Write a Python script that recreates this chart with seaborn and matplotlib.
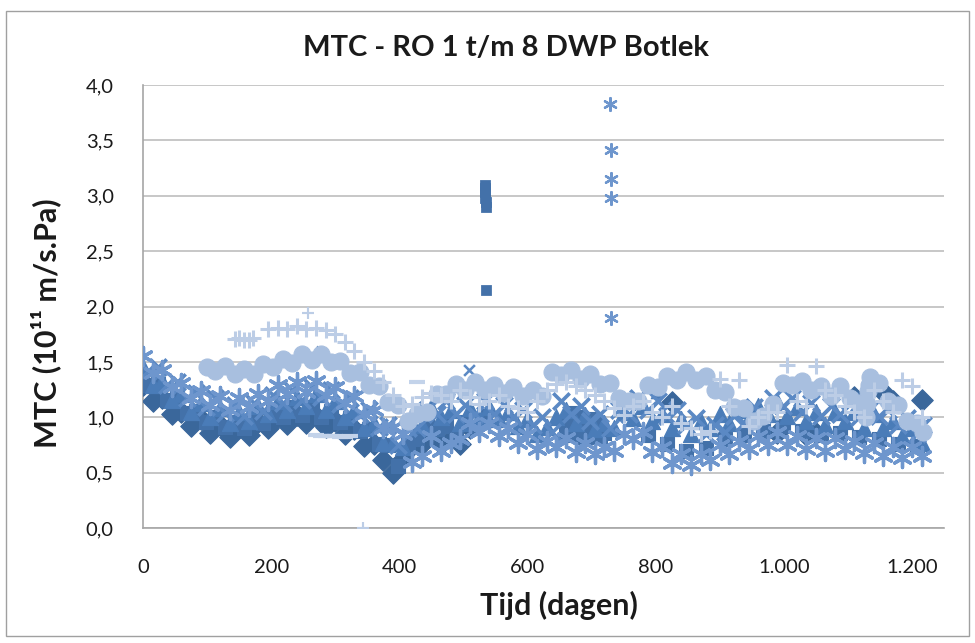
import numpy as np
import pandas as pd
import matplotlib
matplotlib.use("Agg")
import matplotlib.pyplot as plt
import seaborn as sns
from matplotlib.patches import Rectangle
from matplotlib.ticker import FixedLocator

sns.set_theme(style="white")
plt.rcParams['font.family'] = ['Lato', 'DejaVu Sans']

# ---------------- data (days, MTC in 1e-11 m/s.Pa) ----------------
DAYS_A = [0, 15, 30, 45, 60, 75, 90, 105, 120, 135,
          150, 165, 180, 195, 210, 225, 240, 255, 270, 285,
          300, 315, 330, 345, 360, 375, 390, 405, 420, 435,
          450, 465, 480, 495, 510, 525, 540, 555, 570, 585,
          600, 615, 630, 645, 660, 675, 690, 705, 720, 735,
          750, 765, 780, 795, 810, 825, 840, 855, 870, 885,
          900, 915, 930, 945, 960, 975, 990, 1005, 1020, 1035,
          1050, 1065, 1080, 1095, 1110, 1125, 1140, 1155, 1170, 1185,
          1200, 1215]
DAYS_B = [8, 23, 38, 53, 68, 83, 98, 113, 128, 143,
          158, 173, 188, 203, 218, 233, 248, 263, 278, 293,
          308, 323, 338, 353, 368, 383, 398, 413, 428, 443,
          458, 473, 488, 503, 518, 533, 548, 563, 578, 593,
          608, 623, 638, 653, 668, 683, 698, 713, 728, 743,
          758, 773, 788, 803, 818, 833, 848, 863, 878, 893,
          908, 923, 938, 953, 968, 983, 998, 1013, 1028, 1043,
          1058, 1073, 1088, 1103, 1118, 1133, 1148, 1163, 1178, 1193,
          1208, 1218]

N = None
RO1 = [1.29, 1.15, 1.17, 1.03, 1.05, 0.92, 0.98, 0.86, 0.93, 0.82,
       0.91, 0.84, 0.96, 0.90, 1.01, 0.94, 1.02, 0.95, 1.01, 0.91,
       0.97, 0.85, 0.89, 0.74, 0.76, 0.61, 0.50, 0.62,
       0.74, 0.76, 0.88, 0.76, 0.80, 0.76, 0.90, N, N, N, N, N, N, N, N,
       N, N, N, N, N, N, N, N, N,
       N, N, N, 1.14, N, N, N, N, N, N,
       N, N, N, N, 0.86, N, N, 0.84, 0.86, N,
       N, N, 1.18, N, N, 1.23, 1.15, N, N, 1.16]
RO1_EXTRA_DAYS = []
RO1_EXTRA_MTC = []
RO1_OUT_DAYS = []
RO1_OUT_MTC = []

RO2 = [1.29, 1.30, 1.16, 1.17, 1.04, 1.06, 0.96, 1.00, 0.91, 0.96,
       0.90, 0.99, 0.95, 1.05, 1.00, 1.09, 1.02, 1.09, 1.00, 1.06,
       0.96, 0.99, 0.88, 0.89, 0.76, 0.75, 0.56, 0.76,
       0.80, 0.94, 0.89, 0.92, 0.82, 0.96, 0.91, 1.01, N, N, N, N, N, N, N,
       N, 1.04, 0.96, 0.98, 0.90, N, N, N, N,
       0.84, N, 0.76, N, 0.70, N, 0.72, N, 0.80, N,
       0.84, N, 0.88, N, 0.92, N, 0.88, N, 0.84, N,
       0.86, N, 0.82, N, 0.80, N, 0.76, N, 0.74, N]
RO2_EXTRA_DAYS = [660, 668, 675, 683, 690, 698, 705, 713, 720, 663, 678, 693, 708]
RO2_EXTRA_MTC = [0.86, 0.84, 0.85, 0.83, 0.82, 0.84, 0.83, 0.82, 0.86, 0.97, 1.00, 0.94, 0.95]
RO2_OUT_DAYS = [533, 533, 534, 534, 535, 535, 536]
RO2_OUT_MTC = [3.10, 3.07, 3.03, 2.98, 2.94, 2.90, 2.15]

RO3 = [1.45, 1.29, 1.33, 1.16, 1.21, 1.05, 1.13, 1.00, 1.08, 0.95,
       1.05, 0.97, 1.10, 1.03, 1.15, 1.07, 1.18, 1.10, 1.21, 1.07,
       1.15, 1.00, 1.07, 0.90, 0.95, 0.77, 0.77, 0.73,
       0.95, 0.93, 1.09, 1.00, 1.07, 0.95, 1.08, 1.00, 1.09, 0.98, 1.05, 0.92, 0.98, 0.85, 0.91,
       1.00, 1.07, 0.95, 1.02, 0.89, 0.95, 0.90, 1.05, 0.99,
       1.10, 0.97, 1.03, 0.90, 0.98, 0.85, 0.97, 0.90, 1.03, 0.95,
       1.07, 0.99, 1.10, 1.03, 1.15, 1.01, 1.09, 0.97, 1.05, 0.93,
       1.05, 0.97, 1.05, 0.90, 1.03, 0.90, 0.97, 0.83, 0.90, 0.77]
RO3_EXTRA_DAYS = []
RO3_EXTRA_MTC = []
RO3_OUT_DAYS = [272, 800, 1168]
RO3_OUT_MTC = [1.60, 1.22, 1.15]

RO4 = [1.42, 1.45, 1.29, 1.32, 1.17, 1.22, 1.09, 1.17, 1.04, 1.11,
       1.01, 1.13, 1.06, 1.20, 1.13, 1.25, 1.16, 1.27, 1.18, 1.25,
       1.12, 1.17, 1.03, 1.07, 0.91, 0.93, 0.75, 0.90,
       0.90, 1.07, 1.03, 1.15, 1.03, 1.11, 1.03, 1.15, 1.03, 1.11, 1.00, 1.07, 0.93, 1.00, 0.87,
       1.15, 1.03, 1.10, 0.97, 1.03, 0.90, 1.07, 1.03, 1.17,
       1.07, 1.15, 1.01, 1.07, 0.93, 0.99, 0.85, 0.93, 0.87, 1.01,
       0.95, 1.09, 1.03, 1.17, 1.10, 1.17, 1.05, 1.13, 1.01, 1.10,
       1.03, 1.15, 1.00, 1.07, 1.01, 1.07, 0.93, 0.99, 0.85, 0.93]
RO4_EXTRA_DAYS = []
RO4_EXTRA_MTC = []
RO4_OUT_DAYS = [509]
RO4_OUT_MTC = [1.43]

RO5 = [1.55, 1.40, 1.43, 1.27, 1.31, 1.17, 1.24, 1.11, 1.19, 1.07,
       1.17, 1.09, 1.21, 1.15, 1.29, 1.21, 1.32, 1.23, 1.33, 1.20,
       1.27, 1.13, 1.19, 1.03, 1.07, 0.90, 0.91, 0.85,
       0.60, 0.65, 0.83, 0.70, 0.77, 0.80, 0.95, 0.87, 0.95, 0.83, 0.90, 0.77, 0.85, 0.71, 0.79,
       0.73, 0.81, 0.69, 0.77, 0.67, 0.73, 0.70, 0.85, 0.80,
       0.87, 0.69, 0.73, 0.59, 0.67, 0.57, 0.67, 0.61, 0.75, 0.67,
       0.79, 0.71, 0.83, 0.75, 0.87, 0.75, 0.83, 0.71, 0.81, 0.70,
       0.81, 0.71, 0.79, 0.68, 0.77, 0.65, 0.73, 0.63, 0.73, 0.65]
RO5_EXTRA_DAYS = []
RO5_EXTRA_MTC = []
RO5_OUT_DAYS = [729, 730, 731, 731, 730]
RO5_OUT_MTC = [3.83, 3.41, 3.15, 2.98, 1.90]

RO6 = [N, N, N, N, N, N, N, 1.42, 1.46, 1.39,
       1.44, 1.39, 1.48, 1.45, 1.53, 1.49, 1.57, 1.52, 1.57, 1.50,
       1.51, 1.40, 1.41, 1.29, 1.28, 1.14, 1.11, 0.97,
       1.03, 1.05, 1.21, 1.21, 1.30, 1.25, 1.32, 1.25, 1.29, 1.22, 1.27, 1.19, 1.25, 1.19, 1.41,
       1.38, 1.43, 1.35, 1.39, 1.30, 1.31, 1.17, 1.15, 1.15,
       1.29, 1.27, 1.37, 1.34, 1.41, 1.34, 1.37, 1.25, 1.23, 1.09,
       1.08, 0.97, 1.01, 1.12, 1.31, 1.29, 1.33, 1.25, 1.28, 1.19,
       1.28, 1.17, 1.13, 1.29, 1.31, 1.15, 1.11, 0.97, 0.95, 0.87]
RO6_EXTRA_DAYS = [100, 1128, 1130, 1132, 1134]
RO6_EXTRA_MTC = [1.45, 1.00, 1.12, 1.24, 1.36]
RO6_OUT_DAYS = []
RO6_OUT_MTC = []

RO7 = [N, N, N, N, N, N, N, N, N, N,
       1.72, 1.70, N, 1.80, 1.81, 1.80, 1.82, 1.80, 1.81, 1.79,
       1.75, 1.68, 1.60, 1.50, 1.42, 1.32, 1.20, 1.10,
       1.12, 1.18, 1.22, 1.20, 1.15, 1.25, 1.18, 1.12, 1.15, 1.20, 1.10, 1.08, 1.05, 1.15, 1.25,
       1.30, 1.32, 1.28, 1.25, 1.20, 1.15, 1.08, 1.02, 1.10,
       1.15, 1.05, 1.00, 1.10, 0.95, 0.90, 0.85, 0.88, 1.35, 1.10,
       1.34, 0.92, 1.00, 1.05, 1.05, 1.47, 1.15, 1.10, 1.46, 1.25,
       1.20, 1.10, 1.05, 1.00, 1.25, 1.15, 1.05, 1.34, 1.28, 1.00]
RO7_EXTRA_DAYS = [143, 158, 172]
RO7_EXTRA_MTC = [1.71, 1.70, 1.72]
RO7_OUT_DAYS = [257, 343]
RO7_OUT_MTC = [1.94, 0.0]

RO8 = [N, N, N, N, N, N, N, N, N, N,
       N, N, N, N, N, N, N, N, 0.83, 0.83,
       0.82, 0.83, N, N, N, N, N, N,
       1.32, N, N, N, N, N, N, N, N, N, N, N, N, N, N,
       N, N, N, N, N, N, N, N, N,
       N, N, N, N, N, N, N, N, N, N,
       N, N, N, N, N, N, N, N, N, N,
       N, N, N, N, N, N, N, N, N, N]
RO8_EXTRA_DAYS = [270, 285, 300, 315]
RO8_EXTRA_MTC = [0.84, 0.83, 0.83, 0.82]
RO8_OUT_DAYS = []
RO8_OUT_MTC = []

SERIES_NAMES = ["RO 1", "RO 2", "RO 3", "RO 4", "RO 5", "RO 6", "RO 7", "RO 8"]
SERIES_DAYS = [DAYS_A, DAYS_B, DAYS_A, DAYS_B, DAYS_A, DAYS_B, DAYS_A, DAYS_B]
SERIES_VALUES = [RO1, RO2, RO3, RO4, RO5, RO6, RO7, RO8]
EXTRA_DAYS = [RO1_EXTRA_DAYS, RO2_EXTRA_DAYS, RO3_EXTRA_DAYS, RO4_EXTRA_DAYS,
              RO5_EXTRA_DAYS, RO6_EXTRA_DAYS, RO7_EXTRA_DAYS, RO8_EXTRA_DAYS]
EXTRA_VALUES = [RO1_EXTRA_MTC, RO2_EXTRA_MTC, RO3_EXTRA_MTC, RO4_EXTRA_MTC,
                RO5_EXTRA_MTC, RO6_EXTRA_MTC, RO7_EXTRA_MTC, RO8_EXTRA_MTC]
OUT_DAYS = [RO1_OUT_DAYS, RO2_OUT_DAYS, RO3_OUT_DAYS, RO4_OUT_DAYS,
            RO5_OUT_DAYS, RO6_OUT_DAYS, RO7_OUT_DAYS, RO8_OUT_DAYS]
OUT_VALUES = [RO1_OUT_MTC, RO2_OUT_MTC, RO3_OUT_MTC, RO4_OUT_MTC,
              RO5_OUT_MTC, RO6_OUT_MTC, RO7_OUT_MTC, RO8_OUT_MTC]

X_TICKS = [0, 200, 400, 600, 800, 1000, 1200]
X_TICK_LABELS = ["0", "200", "400", "600", "800", "1.000", "1.200"]
Y_TICKS = [0.0, 0.5, 1.0, 1.5, 2.0, 2.5, 3.0, 3.5, 4.0]
Y_TICK_LABELS = ["0,0", "0,5", "1,0", "1,5", "2,0", "2,5", "3,0", "3,5", "4,0"]

# ---------------- styles ----------------
STYLES = {
    "RO 1": dict(marker="D", color="#3A679B", s=120, s_out=45, filled=True, lw=0.8),
    "RO 2": dict(marker="s", color="#4371A9", s=110, s_out=50, filled=True, lw=0.8),
    "RO 3": dict(marker="^", color="#4A7CB8", s=135, s_out=60, filled=True, lw=0.8),
    "RO 4": dict(marker="x", color="#5B89C4", s=140, s_out=60, filled=False, lw=2.6),
    "RO 5": dict(marker=(6, 2, 0), color="#6E96CD", s=170, s_out=85, filled=False, lw=2.4),
    "RO 6": dict(marker="o", color="#A8BFDF", s=150, s_out=80, filled=True, lw=0.8),
    "RO 7": dict(marker="+", color="#BCCDE6", s=130, s_out=80, filled=False, lw=2.2),
    "RO 8": dict(marker="_", color="#C3D3EA", s=130, s_out=80, filled=False, lw=3.0),
}

fig = plt.figure(figsize=(9.75, 6.43), dpi=100)
ax = fig.add_axes([0.1467, 0.1788, 0.8215, 0.689])


def draw(df, st, size, lw):
    kw = dict(marker=st["marker"], color=st["color"], s=size, ax=ax, legend=False, zorder=3)
    if st["filled"]:
        kw["edgecolor"] = st["color"]
    kw["linewidth"] = lw
    sns.scatterplot(data=df, x="dag", y="mtc", **kw)


for name, days, vals, edays, evals, odays, ovals in zip(
        SERIES_NAMES, SERIES_DAYS, SERIES_VALUES, EXTRA_DAYS, EXTRA_VALUES, OUT_DAYS, OUT_VALUES):
    st = STYLES[name]
    yv = [np.nan if v is None else v for v in vals]
    n = min(len(days), len(yv))
    main = pd.DataFrame({"dag": list(days[:n]) + list(edays),
                         "mtc": yv[:n] + list(evals)}).dropna()
    draw(main, st, st["s"], st["lw"])
    if len(odays):
        out = pd.DataFrame({"dag": list(odays), "mtc": list(ovals)})
        draw(out, st, st["s_out"], st["lw"] * 0.7)

ax.set_xlim(0, 1250)
ax.set_ylim(0, 4.0)
ax.xaxis.set_major_locator(FixedLocator(X_TICKS))
ax.set_xticklabels(X_TICK_LABELS)
ax.yaxis.set_major_locator(FixedLocator(Y_TICKS))
ax.set_yticklabels(Y_TICK_LABELS)
ax.set_xlabel("")
ax.set_ylabel("")

ax.grid(axis="y", color="#BEBEBE", linewidth=1.2, zorder=0)
ax.grid(axis="x", visible=False)
ax.set_axisbelow(True)
for side in ["top", "right"]:
    ax.spines[side].set_visible(False)
for side in ["left", "bottom"]:
    ax.spines[side].set_color("#A6A6A6")
    ax.spines[side].set_linewidth(1.2)
ax.tick_params(axis="both", which="major", direction="out", length=6, width=1.1,
               color="#A6A6A6", labelsize=14.5, labelcolor="#1A1A1A")
ax.tick_params(axis="x", pad=16)
ax.tick_params(axis="y", pad=15)

fig.text(0.519, 1 - 48 / 643, "MTC - RO 1 t/m 8 DWP Botlek", ha="center", va="center",
         fontsize=21, fontweight="bold", color="#1A1A1A")
fig.text(559 / 975, 1 - 605 / 643, "Tijd (dagen)", ha="center", va="center",
         fontsize=22, fontweight="bold", color="#1A1A1A")
fig.text(46 / 975, 1 - 323 / 643, "MTC (10\u00b9\u00b9 m/s.Pa)", ha="center", va="center",
         rotation=90, fontsize=22, fontweight="bold", color="#1A1A1A")

fig.add_artist(Rectangle((6 / 975, 1 - 636 / 643), 963 / 975, 625 / 643,
                         transform=fig.transFigure, fill=False,
                         edgecolor="#A0A0A0", linewidth=1.0))

fig.savefig("out.png", dpi=100, facecolor="white")
